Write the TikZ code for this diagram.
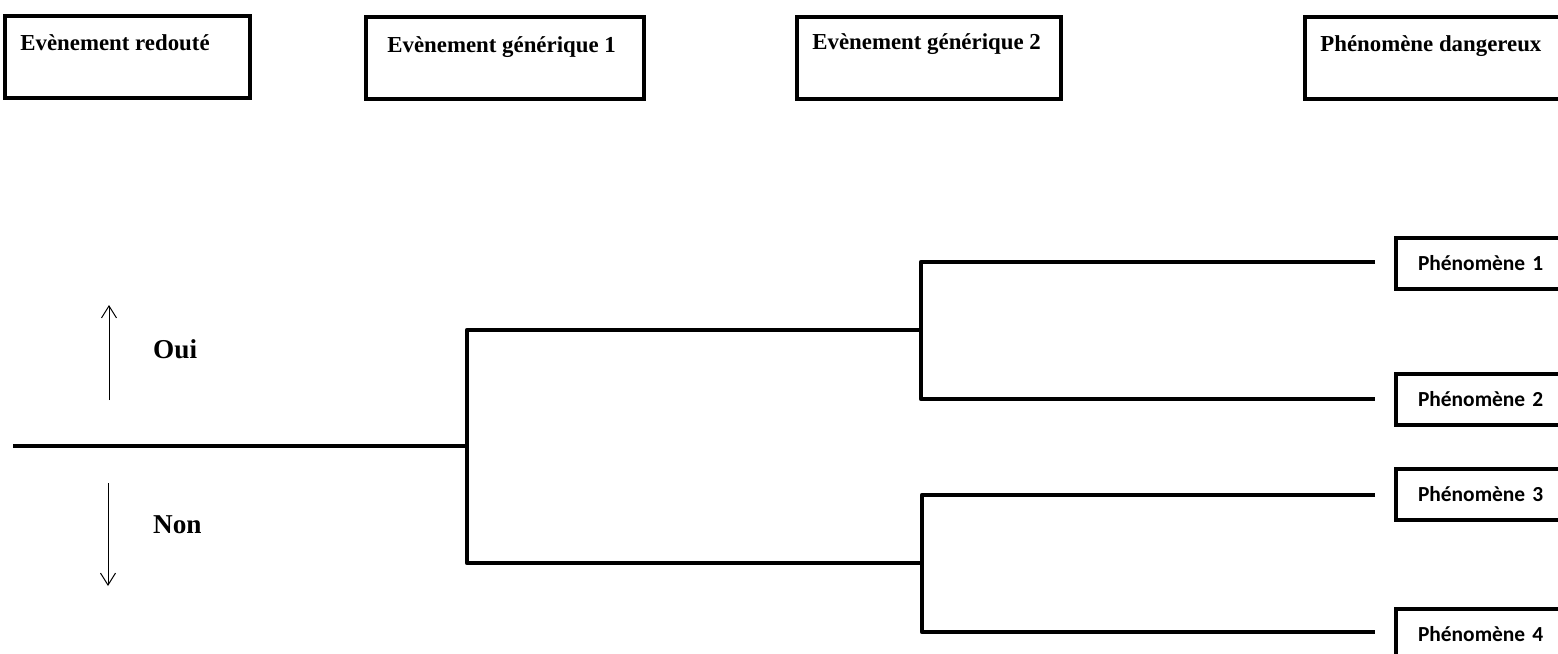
\documentclass[tikz,border=0pt]{standalone}
\usepackage{fontspec}
\setmainfont{Liberation Serif}
\newfontfamily\calibri{Carlito}
\usetikzlibrary{
    arrows.meta,
    positioning
}
\tikzset{
    % --- Column header frame (event / phenomenon column) ---
    head box/.style = {
        rectangle, draw, line width=0.8mm,
        anchor=north west,
        minimum height=16.4mm
    },
    % --- Column header title ---
    head title/.style = {
        inner sep=0pt,
        font=\fontsize{13}{15}\selectfont\bfseries
    },
    % --- Outcome box at the end of a branch ---
    outcome/.style = {
        rectangle, draw, line width=0.8mm,
        anchor=north west,
        minimum height=10.2mm,
        inner xsep=4.4mm, text width=31.2mm,
        align=left,
        font=\calibri\fontsize{12.2}{14}\selectfont\bfseries
    },
    % --- Tree branch ---
    branch/.style = {
        line width=0.9mm, line join=round
    },
    % --- Yes/no direction arrow ---
    sense arrow/.style = {
        -{Straight Barb[length=2.4mm, width=3mm]}, line width=0.2mm
    },
    % --- Yes/no label ---
    answer/.style = {
        anchor=west,
        font=\fontsize{15.5}{17}\selectfont\bfseries
    }
}

\begin{document}
\begin{tikzpicture}[x=0.2mm, y=-0.2mm]

\clip (0,0) rectangle (1558,653);

% ---------------------------------------------------------
% Column headers
% ---------------------------------------------------------
\node[head box, minimum width=49mm] (Feared) at (3,14) {};
\node[head box, minimum width=55.6mm] (Gen1) at (364,15) {};
\node[head box, minimum width=52.8mm] (Gen2) at (795,15) {};
\node[head box, minimum width=56mm] (Danger) at (1303,15) {};

\node[head title, below right=7.2mm and 3.4mm of Feared.north west, anchor=base west] (FearedTitle) {Evènement redouté};
\node[head title, below right=7.4mm and 4.6mm of Gen1.north west, anchor=base west] (Gen1Title) {Evènement générique 1};
\node[head title, below right=6.8mm and 3.4mm of Gen2.north west, anchor=base west] (Gen2Title) {Evènement générique 2};
\node[head title, below right=7.2mm and 3.4mm of Danger.north west, anchor=base west] (DangerTitle) {Phénomène dangereux};

% ---------------------------------------------------------
% Outcomes
% ---------------------------------------------------------
\node[outcome] (Phen1) at (1394,236) {Phénomène 1};
\node[outcome] (Phen2) at (1394,372) {Phénomène 2};
\node[outcome] (Phen3) at (1394,467) {Phénomène 3};
\node[outcome] (Phen4) at (1394,607) {Phénomène 4};

% ---------------------------------------------------------
% Event tree
% ---------------------------------------------------------
\coordinate (Start) at (13,446);
\coordinate (Split1) at (467,446);
\coordinate (Split2a) at (921,330);
\coordinate (Split2b) at (922,563);
\coordinate (End1) at (1375,262);
\coordinate (End2) at (1375,399);
\coordinate (End3) at (1375,495);
\coordinate (End4) at (1375,632);

\draw[branch] (Start) -- (Split1);
\draw[branch] (Split2a) -| (Split1) |- (Split2b);
\draw[branch] (End1) -| (Split2a) |- (End2);
\draw[branch] (End3) -| (Split2b) |- (End4);

% ---------------------------------------------------------
% Yes / no legend
% ---------------------------------------------------------
\coordinate (OuiTail) at (109,400);
\coordinate (OuiHead) at (109,305);
\coordinate (NonTail) at (108,483);
\coordinate (NonHead) at (108,586);

\draw[sense arrow] (OuiTail) -- (OuiHead);
\draw[sense arrow] (NonTail) -- (NonHead);

\node[answer] (Oui) at (147,349) {Oui};
\node[answer] (Non) at (147,525) {Non};

\end{tikzpicture}
\end{document}
